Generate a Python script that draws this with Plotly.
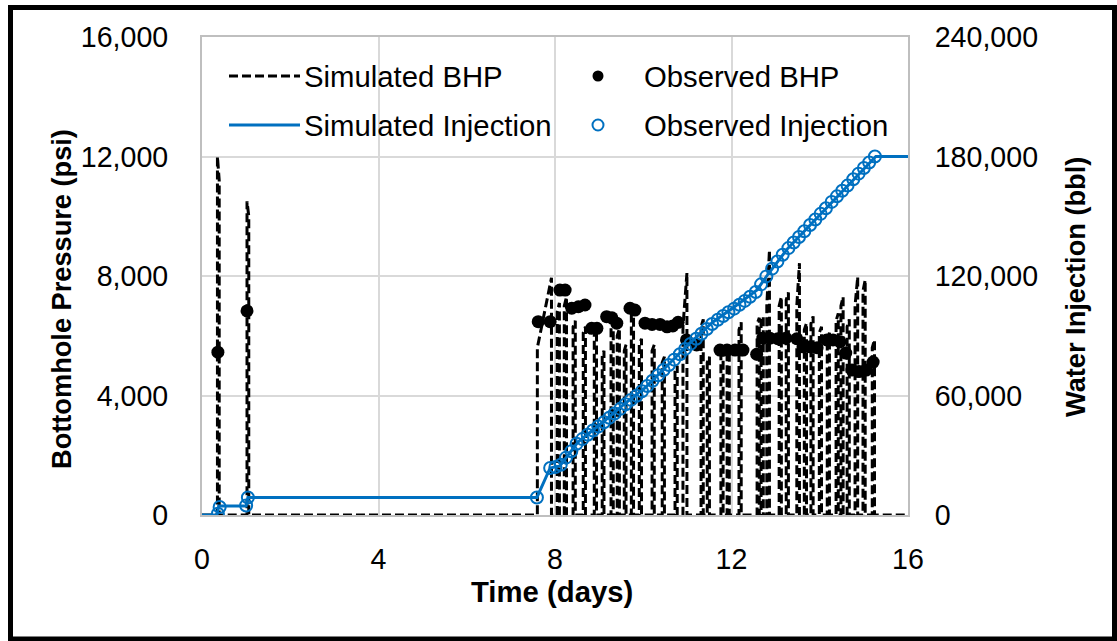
import plotly.graph_objects as go

# ---- Simulated bottomhole pressure: one pressure pulse per injection stage ----
# each pulse: time the well opens, time it shuts in, pressure just after opening, pressure at shut-in
bhp_open_t = [0.35, 1.02, 7.60, 8.05, 8.21, 8.41, 8.64, 8.89, 9.07, 9.27, 9.41, 9.57, 9.73, 9.91,
              10.20, 10.43, 10.72, 10.90, 11.31, 11.45, 11.76, 11.90, 12.17, 12.58, 12.67, 12.80,
              13.08, 13.24, 13.48, 13.65, 13.80, 13.99, 14.17, 14.37, 14.48, 14.62, 14.80, 14.98, 15.19]
bhp_shut_t = [0.39, 1.06, 7.92, 8.10, 8.26, 8.46, 8.69, 8.94, 9.11, 9.32, 9.46, 9.61, 9.78, 9.96,
              10.25, 10.48, 10.77, 10.99, 11.36, 11.50, 11.81, 11.95, 12.22, 12.63, 12.72, 12.86,
              13.13, 13.29, 13.54, 13.70, 13.85, 14.04, 14.22, 14.42, 14.53, 14.67, 14.86, 15.03, 15.24]
bhp_open_p = [12000, 10500, 5600, 6800, 7000, 6300, 6100, 6000, 5300, 6500, 6000, 5500, 6700, 5700,
              5500, 5100, 4800, 6300, 6300, 5100, 5400, 5300, 6200, 6400, 6400, 7000,
              7000, 7200, 7000, 6200, 6400, 6100, 5900, 6500, 7000, 6300, 7000, 7500, 5600]
bhp_shut_p = [11200, 10000, 7940, 7100, 7300, 6500, 6300, 6250, 5500, 6700, 6250, 5700, 6950, 5900,
              5700, 5300, 5000, 8100, 6550, 5300, 5600, 5500, 6450, 6600, 6650, 8870,
              7300, 7450, 8430, 6420, 6650, 6300, 6100, 6750, 7300, 6550, 7970, 7870, 5860]
t_end = 16.0

# ---- Observed bottomhole pressure (psi) ----
obs_bhp_t = [0.36, 1.02, 7.62, 7.89, 8.11, 8.23, 8.38, 8.53, 8.68, 8.83, 8.95, 9.17, 9.29, 9.40,
             9.70, 9.81, 10.04, 10.20, 10.38, 10.54, 10.67, 10.79, 10.98, 11.21, 11.74, 11.90,
             12.08, 12.26, 12.57, 12.71, 12.87, 13.05, 13.23, 13.48, 13.62, 13.78, 13.94, 14.16,
             14.30, 14.46, 14.59, 14.73, 14.89, 15.05, 15.21]
obs_bhp_p = [5450, 6830, 6470, 6470, 7530, 7530, 6920, 6970, 7030, 6250, 6250, 6640, 6600, 6420,
             6920, 6860, 6420, 6380, 6380, 6300, 6330, 6450, 5860, 5690, 5520, 5520,
             5520, 5520, 5380, 5920, 5920, 5900, 5920, 5900, 5630, 5630, 5600, 5860,
             5860, 5800, 5420, 4850, 4800, 4850, 5120]

# ---- Simulated cumulative water injection (bbl) ----
sim_inj_t = [0.0, 0.34, 0.38, 1.00, 1.04, 7.59, 7.89, 8.11, 8.52, 9.09, 9.54, 10.04, 10.56, 11.01,
             11.58, 12.03, 12.58, 12.83, 13.28, 13.78, 14.28, 14.80, 15.27, 16.0]
sim_inj_v = [0, 0, 4500, 4500, 8800, 8800, 23600, 24600, 36650, 46700, 55200, 63800, 75300, 85400,
             96900, 103900, 113000, 121000, 134000, 145600, 157200, 169200, 180000, 180000]

# ---- Observed cumulative water injection (bbl) ----
obs_inj_t = [0.36, 0.40, 1.00, 1.04, 7.59, 7.89, 8.01, 8.13, 8.25, 8.37, 8.49, 8.62, 8.74, 8.86,
             8.98, 9.11, 9.23, 9.35, 9.48, 9.60, 9.72, 9.85, 9.97, 10.09, 10.21, 10.34, 10.46,
             10.58, 10.70, 10.83, 10.95, 11.07, 11.20, 11.32, 11.44, 11.56, 11.69, 11.81, 11.93,
             12.06, 12.18, 12.30, 12.42, 12.55, 12.67, 12.79, 12.92, 13.04, 13.16, 13.29, 13.41,
             13.53, 13.65, 13.78, 13.90, 14.02, 14.14, 14.27, 14.39, 14.51, 14.63, 14.76, 14.88,
             15.00, 15.12, 15.25]
obs_inj_v = [600, 4000, 4800, 8800, 8800, 23600, 24100, 25200, 28800, 32000, 35800, 38100, 40300,
             42400, 44400, 46600, 48800, 51000, 53300, 55600, 57800, 59900, 62100, 64800, 67400,
             70200, 72800, 75300, 78000, 80700, 83400, 85900, 88500, 91000, 93400, 95900, 98000,
             99900, 101800, 103600, 105600, 107500, 109600, 112000, 115800, 119800, 123700, 127300,
             130700, 134000, 136800, 139600, 142500, 145600, 148400, 151200, 154000, 157200, 160000,
             162800, 165400, 168600, 171400, 174200, 177000, 180000]

# assemble the simulated BHP polyline from the pulse table
sim_bhp_t = [0.0]
sim_bhp_p = [0]
for t0, t1, p0, p1 in zip(bhp_open_t, bhp_shut_t, bhp_open_p, bhp_shut_p):
    sim_bhp_t += [t0, t0, t1, t1]
    sim_bhp_p += [0, p0, p1, 0]
sim_bhp_t.append(t_end)
sim_bhp_p.append(0)

BLUE = "#0070C0"
FONT = "Liberation Sans, Arial, sans-serif"
GRID = "#d9d9d9"
TICK_SIZE = 28.6
LEGEND_SIZE = 29.3
TITLE_SIZE = 27.2
DASH = "9px,4px"

fig = go.Figure()
fig.add_trace(go.Scatter(
    x=sim_bhp_t, y=sim_bhp_p, mode="lines", name="Simulated BHP",
    line=dict(color="black", width=3, dash=DASH)))
fig.add_trace(go.Scatter(
    x=sim_inj_t, y=sim_inj_v, mode="lines", name="Simulated Injection", yaxis="y2",
    line=dict(color=BLUE, width=3)))
fig.add_trace(go.Scatter(
    x=obs_bhp_t, y=obs_bhp_p, mode="markers", name="Observed BHP",
    marker=dict(color="black", size=13, line=dict(width=0))))
fig.add_trace(go.Scatter(
    x=obs_inj_t, y=obs_inj_v, mode="markers", name="Observed Injection", yaxis="y2",
    marker=dict(symbol="circle-open", color=BLUE, size=12, line=dict(width=2, color=BLUE))))

W, H = 1117, 641
ml, mr, mt, mb = 202, 209, 37, 126
pw, ph = W - ml - mr, H - mt - mb


def px_x(x):
    return (x - ml) / pw


def px_y(y):
    return (H - mb - y) / ph


shapes = [dict(type="rect", xref="paper", yref="paper",
               x0=px_x(10.5), x1=px_x(1114.5), y0=px_y(639), y1=px_y(7.5),
               line=dict(color="black", width=5), fillcolor="rgba(0,0,0,0)", layer="below")]
annotations = []

# two-column key inside the plot area
key_rows = {"top": 76, "bottom": 125}
key_items = [
    ("Simulated BHP", "top", 302, "dash"),
    ("Simulated Injection", "bottom", 302, "line"),
    ("Observed BHP", "top", 642, "dot"),
    ("Observed Injection", "bottom", 642, "ring"),
]
for label, row, text_x, kind in key_items:
    yy = key_rows[row]
    if kind in ("dash", "line"):
        shapes.append(dict(
            type="line", xref="paper", yref="paper",
            x0=px_x(229), x1=px_x(300), y0=px_y(yy), y1=px_y(yy),
            line=dict(color="black" if kind == "dash" else BLUE, width=3,
                      dash=DASH if kind == "dash" else "solid")))
    else:
        r = 5.5
        shapes.append(dict(
            type="circle", xref="paper", yref="paper",
            x0=px_x(598 - r), x1=px_x(598 + r), y0=px_y(yy + r), y1=px_y(yy - r),
            line=dict(color="black" if kind == "dot" else BLUE, width=0 if kind == "dot" else 2),
            fillcolor="black" if kind == "dot" else "rgba(0,0,0,0)"))
    annotations.append(dict(
        text=label, xref="paper", yref="paper", x=px_x(text_x), y=px_y(yy),
        xanchor="left", yanchor="middle", showarrow=False,
        font=dict(family=FONT, size=LEGEND_SIZE, color="black")))

# axis titles
annotations += [
    dict(text="<b>Time (days)</b>", xref="paper", yref="paper", x=px_x(552), y=px_y(591),
         xanchor="center", yanchor="middle", showarrow=False,
         font=dict(family=FONT, size=29.3, color="black")),
    dict(text="<b>Bottomhole Pressure (psi)</b>", xref="paper", yref="paper",
         x=px_x(62), y=px_y(299), textangle=-90, xanchor="center", yanchor="middle",
         showarrow=False, font=dict(family=FONT, size=TITLE_SIZE, color="black")),
    dict(text="<b>Water Injection (bbl)</b>", xref="paper", yref="paper",
         x=px_x(1075), y=px_y(287), textangle=-90, xanchor="center", yanchor="middle",
         showarrow=False, font=dict(family=FONT, size=TITLE_SIZE, color="black")),
]

fig.update_layout(
    width=W, height=H,
    margin=dict(l=ml, r=mr, t=mt, b=mb, pad=0),
    paper_bgcolor="white", plot_bgcolor="white",
    font=dict(family=FONT, size=TICK_SIZE, color="black"),
    showlegend=False,
    xaxis=dict(
        range=[0, 16], tickvals=[0, 4, 8, 12, 16], ticktext=["0", "4", "8", "12", "16"],
        showgrid=True, gridcolor=GRID, gridwidth=2,
        showline=True, linecolor="#bfbfbf", linewidth=2, mirror=True,
        ticks="", zeroline=False, ticklabelstandoff=18,
        tickfont=dict(family=FONT, size=TICK_SIZE, color="black"),
    ),
    yaxis=dict(
        range=[0, 16000], tickvals=[0, 4000, 8000, 12000, 16000],
        ticktext=["0", "4,000", "8,000", "12,000", "16,000"],
        showgrid=True, gridcolor=GRID, gridwidth=2,
        showline=True, linecolor="#bfbfbf", linewidth=2,
        ticks="", zeroline=False, ticklabelstandoff=26,
        tickfont=dict(family=FONT, size=TICK_SIZE, color="black"),
    ),
    yaxis2=dict(
        range=[0, 240000], tickvals=[0, 60000, 120000, 180000, 240000],
        ticktext=["0", "60,000", "120,000", "180,000", "240,000"],
        overlaying="y", side="right", showgrid=False,
        showline=True, linecolor="#bfbfbf", linewidth=2,
        ticks="", zeroline=False, ticklabelstandoff=19,
        tickfont=dict(family=FONT, size=TICK_SIZE, color="black"),
    ),
    shapes=shapes,
    annotations=annotations,
)

fig.write_html("out.html")
